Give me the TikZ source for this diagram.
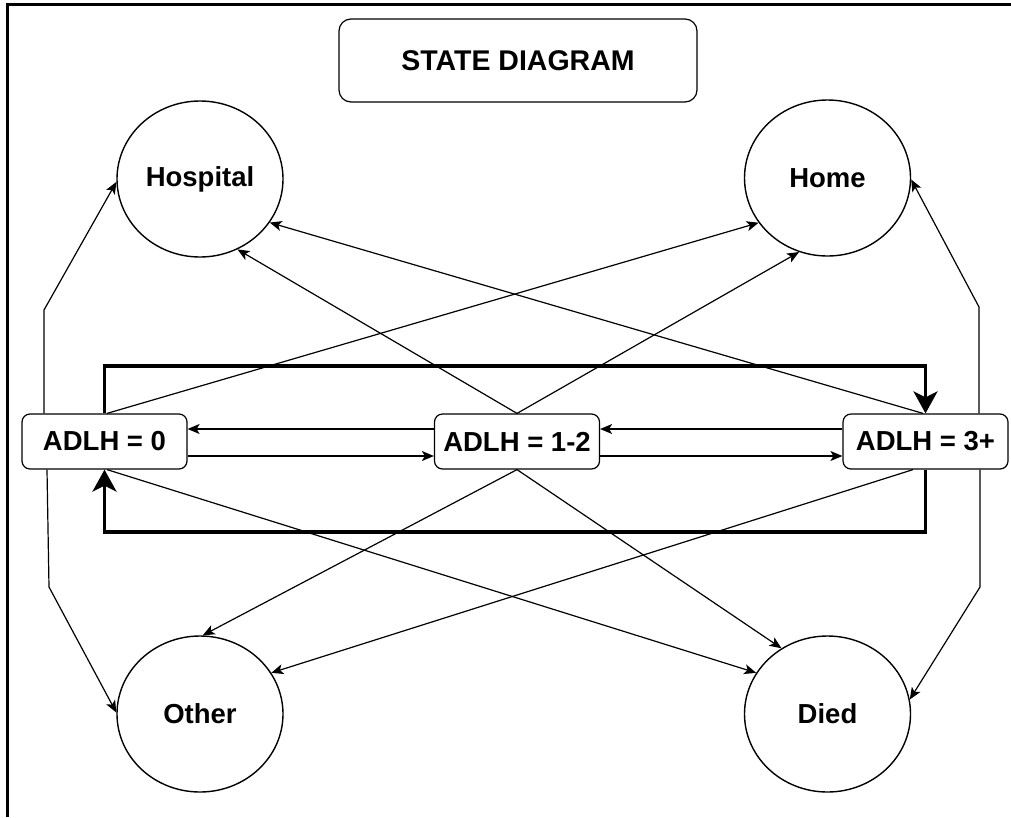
\documentclass[tikz,border=0pt]{standalone}
\usepackage{fontspec}
\setmainfont{Liberation Sans}
\usetikzlibrary{shapes.geometric,arrows.meta}
\begin{document}
\begin{tikzpicture}[x=1pt,y=-1pt,
  lbl/.style={font=\fontsize{27.5}{30}\selectfont\bfseries},
  state/.style={draw, ellipse, minimum width=166pt, minimum height=156pt, line width=1.4pt, inner sep=0pt, lbl},
  adlh/.style={draw, rounded corners=8pt, minimum width=165pt, minimum height=55pt, line width=1.2pt, inner sep=0pt, lbl},
  titlebox/.style={draw, rounded corners=12pt, minimum width=358pt, minimum height=83pt, line width=1.2pt, font=\fontsize{28.5}{31}\selectfont\bfseries},
  conn/.style={line width=1.2pt, -{Stealth[length=12pt,width=10pt,inset=3pt]}},
  looparr/.style={line width=3.5pt, -{Stealth[length=22pt,width=24pt,inset=6pt]}},
  frame/.style={line width=3pt},
]
\useasboundingbox (0,0) rectangle (1011,817);
\draw[frame] (7,817) -- (7,4.5) -- (1011,4.5);

\node[titlebox] (title) at (518,60.5) {STATE DIAGRAM};
\node[state] (hosp) at (200,179) {Hospital};
\node[state] (home) at (827.5,178) {Home};
\node[state] (other) at (200,714) {Other};
\node[state] (died) at (827.5,714) {Died};
\node[adlh] (a0) at (104.5,441.5) {ADLH = 0};
\node[adlh] (a12) at (517,441.5) {ADLH = 1-2};
\node[adlh] (a3) at (925.5,441.5) {ADLH = 3+};

\coordinate (bHl) at (44,310);
\coordinate (bOl) at (49,587);
\coordinate (bHr) at (979,307);
\coordinate (bDr) at (980,587);
\coordinate (tl) at (104.5,366);
\coordinate (tr) at (925.5,366);
\coordinate (br) at (925.5,532);
\coordinate (bl) at (104.5,532);

% outer side paths
\draw[conn] ([xshift=-60.5pt]a0.north) -- (bHl) -- (hosp.182);
\draw[conn] ([xshift=-57.5pt]a0.south) -- (bOl) -- (other.179);
\draw[conn] ([xshift=53.5pt]a3.north) -- (bHr) -- (home.-1);
\draw[conn] ([xshift=54.5pt]a3.south) -- (bDr) -- (died.10);

% diagonals
\draw[conn] ([xshift=2.5pt]a0.north) -- (home.213);
\draw[conn] (a12.north) -- (hosp.-62);
\draw[conn] (a12.north) -- (home.249);
\draw[conn] ([xshift=-2.5pt]a3.north) -- (hosp.-32);
\draw[conn] ([xshift=2.5pt]a0.south) -- (died.150);
\draw[conn] (a12.south) -- (other.88);
\draw[conn] (a12.south) -- (died.125);
\draw[conn] ([xshift=-12.5pt]a3.south) -- (other.30);

% horizontal
\draw[conn] ([yshift=-14.5pt]a0.east) -- ([yshift=-14.5pt]a12.west);
\draw[conn] ([yshift=12.5pt]a12.west) -- ([yshift=12.5pt]a0.east);
\draw[conn] ([yshift=-14.5pt]a12.east) -- ([yshift=-14.5pt]a3.west);
\draw[conn] ([yshift=12.5pt]a3.west) -- ([yshift=12.5pt]a12.east);

% thick loop
\draw[looparr] (a0.north) -- (tl) -- (tr) -- (a3.north);
\draw[looparr] (a3.south) -- (br) -- (bl) -- (a0.south);
\end{tikzpicture}
\end{document}
